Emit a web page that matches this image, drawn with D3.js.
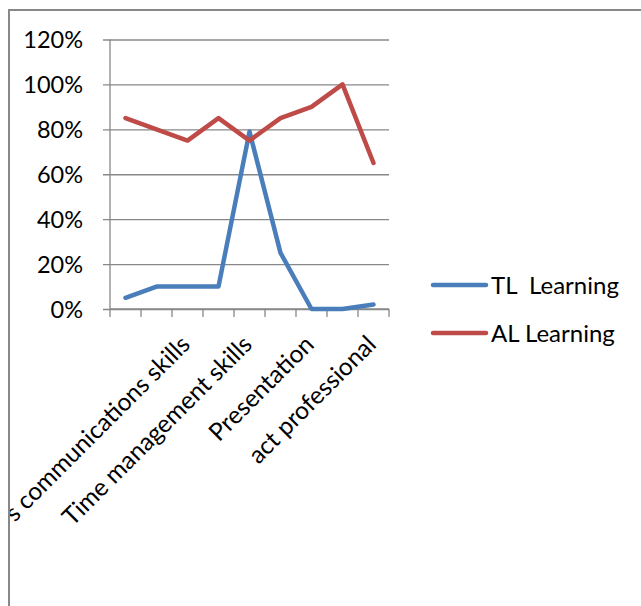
<!DOCTYPE html>
<html>
<head>
<meta charset="utf-8">
<script src="https://cdn.jsdelivr.net/npm/d3@7/dist/d3.min.js"></script>
<style>
  html, body { margin: 0; padding: 0; background: #fff; }
  svg { display: block; font-family: Lato, "Open Sans", sans-serif; }
</style>
</head>
<body>
<svg id="chart" width="641" height="606"></svg>
<script>
// Category axis labels (Excel shows every second one)
const categories = ["", "", "s communications skills", "", "Time management skills", "", "Presentation", "", "act professional"];
const seriesNames = ["TL  Learning", "AL Learning"];
const tlValues = [5, 10, 10, 10, 79, 25, 0, 0, 2];
const alValues = [85, 80, 75, 85, 75, 85, 90, 100, 65];
const yTicks = [0, 20, 40, 60, 80, 100, 120];
const colors = ["#4A7EBB", "#BE4B48"];

const svg = d3.select("#chart");
const W = 641, H = 606;

// chart area frame
svg.append("defs").append("clipPath").attr("id", "frame")
  .append("rect").attr("x", 9).attr("y", 10).attr("width", W - 9).attr("height", H - 10);

const plot = { left: 110, right: 389, top: 39.5, bottom: 309 };

const x = d3.scaleBand().domain(d3.range(categories.length))
  .range([plot.left, plot.right]).paddingInner(0).paddingOuter(0);
const y = d3.scaleLinear().domain([0, 120]).range([plot.bottom, plot.top]);

const root = svg.append("g").attr("clip-path", "url(#frame)");

// gridlines + y axis
const yAxis = d3.axisLeft(y).tickValues(yTicks).tickFormat(d => d + "%")
  .tickSize(-(plot.right - plot.left)).tickPadding(27);
const gy = root.append("g").attr("transform", `translate(${plot.left},0)`).call(yAxis);
gy.select(".domain").remove();
gy.selectAll(".tick line").attr("stroke", "#888").attr("stroke-width", 1.3)
  .attr("x1", -7);
gy.selectAll(".tick text").attr("fill", "#000").attr("font-size", 23.5)
  .attr("font-family", "Lato, sans-serif").attr("dy", "0.36em");

// vertical axis line
root.append("line").attr("x1", plot.left).attr("x2", plot.left)
  .attr("y1", plot.top).attr("y2", plot.bottom).attr("stroke", "#888").attr("stroke-width", 1.3);

// x axis: boundary tick marks
const tickPos = d3.range(categories.length + 1).map(i => plot.left + i * x.bandwidth());
root.append("line").attr("x1", plot.left).attr("x2", plot.right)
  .attr("y1", plot.bottom).attr("y2", plot.bottom).attr("stroke", "#888").attr("stroke-width", 1.3);
root.selectAll(".xtick").data(tickPos).join("line").attr("class", "xtick")
  .attr("x1", d => d).attr("x2", d => d)
  .attr("y1", plot.bottom).attr("y2", plot.bottom + 8)
  .attr("stroke", "#888").attr("stroke-width", 1.3);

// rotated category labels (clipped by the chart frame on the left)
root.selectAll(".xlab").data(categories.map((c, i) => ({ c, i })).filter(d => d.c))
  .join("text").attr("class", "xlab")
  .attr("transform", d => `translate(${x(d.i) + x.bandwidth() / 2 + 4},${plot.bottom + 37}) rotate(-45)`)
  .attr("text-anchor", "end").attr("font-size", 24.5).attr("fill", "#000")
  .text(d => d.c);

// series lines
const line = d3.line().x((d, i) => x(i) + x.bandwidth() / 2).y(d => y(d));
[tlValues, alValues].forEach((vals, k) => {
  root.append("path").datum(vals).attr("d", line)
    .attr("fill", "none").attr("stroke", colors[k]).attr("stroke-width", 4.5)
    .attr("stroke-linejoin", "round").attr("stroke-linecap", "round");
});

// legend
const leg = root.append("g");
seriesNames.forEach((n, k) => {
  const ly = 285 + k * 48;
  leg.append("line").attr("x1", 433).attr("x2", 486).attr("y1", ly).attr("y2", ly)
    .attr("stroke", colors[k]).attr("stroke-width", 4.5).attr("stroke-linecap", "round");
  leg.append("text").attr("x", 491).attr("y", ly).attr("dy", "0.36em")
    .attr("font-size", 24).attr("fill", "#000").attr("xml:space", "preserve")
    .style("white-space", "pre").text(n);
});

// frame (top and left edges visible)
svg.append("path").attr("d", `M9,${H} V10 H${W}`)
  .attr("fill", "none").attr("stroke", "#888").attr("stroke-width", 2);
</script>
</body>
</html>
